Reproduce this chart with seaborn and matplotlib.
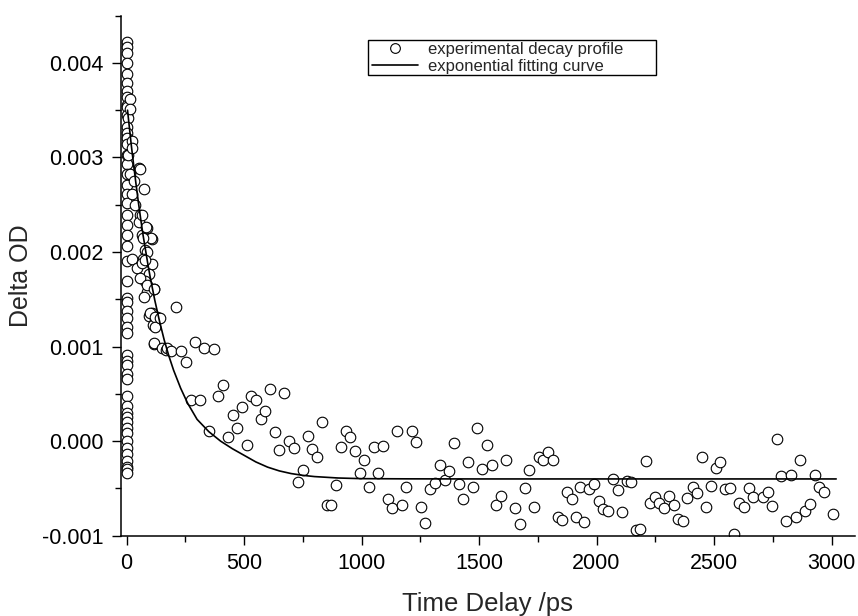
import matplotlib
matplotlib.use("Agg")
import matplotlib.pyplot as plt
from matplotlib.lines import Line2D
from matplotlib.patches import Rectangle
from matplotlib.ticker import MultipleLocator, FormatStrFormatter
import seaborn as sns
import pandas as pd

# ---------------- data (values in units of 1e-3 Delta OD) ----------------
# early-time column (t close to zero)
col_t = [1, 2, 1, 0, 1, 2, 1, 0, 2, 3, 1, 4, 2, 0, 3, 1, 2, 0, 3, 1, 2, 0, 2,
         1, 3, 0, 1, 2, 0, 1, 3, 1, 2, 0, 2, 1, 3, 2, 0, 1, 2, 3, 1, 0, 2, 1,
         3, 2, 1, 2, 0, 1, 2]
col_od = [4.22, 4.17, 4.10, 4.00, 3.88, 3.79, 3.70, 3.64, 3.56, 3.53, 3.45,
          3.42, 3.32, 3.26, 3.21, 3.14, 3.03, 2.93, 2.82, 2.71, 2.61, 2.52,
          2.39, 2.29, 2.18, 2.06, 1.90, 1.69, 1.51, 1.47, 1.38, 1.30, 1.21,
          1.14, 0.91, 0.85, 0.80, 0.71, 0.66, 0.48, 0.37, 0.30, 0.26, 0.20,
          0.14, 0.09, 0.00, -0.07, -0.14, -0.21, -0.27, -0.30, -0.34]

# early decay region
early_t = [8, 15, 15, 23, 23, 15, 30, 51, 72, 37, 58, 23, 51, 65, 86, 108, 79,
           57, 64, 82, 104, 71, 88, 109, 71, 97, 78, 116, 85, 75, 106, 97, 131,
           120, 113, 22, 44, 65, 79, 58, 86, 115, 101, 122, 122, 115, 142, 117,
           150, 166, 171, 191, 210, 231, 251, 291, 331, 372]
early_od = [3.03, 3.62, 3.51, 3.17, 3.10, 2.82, 2.75, 2.89, 2.67, 2.50, 2.39,
            2.61, 2.32, 2.18, 2.25, 2.14, 2.02, 2.88, 2.39, 2.26, 2.15, 2.15,
            2.00, 1.87, 1.93, 1.77, 1.69, 1.61, 1.58, 1.52, 1.35, 1.32, 1.31,
            1.28, 1.23, 1.93, 1.83, 1.88, 1.92, 1.72, 1.65, 1.61, 1.35, 1.31,
            1.21, 1.03, 1.30, 1.04, 0.99, 0.96, 0.98, 0.95, 1.42, 0.95, 0.84,
            1.05, 0.98, 0.97]

# later times
late_t = [272, 312, 350, 391, 411, 433, 451, 471, 491, 511, 529, 550, 570, 590,
          610, 630, 649, 669, 692, 711, 731, 749, 771, 791, 811, 830, 852, 870,
          892, 911, 932, 952, 972, 992, 1012, 1030, 1051, 1071, 1091, 1111,
          1131, 1152, 1172, 1191, 1213, 1232, 1252, 1272, 1292, 1312, 1333,
          1353, 1373, 1392, 1415, 1433, 1453, 1473, 1493, 1513, 1533, 1553,
          1574, 1593, 1614, 1654, 1674, 1694, 1714, 1734, 1754, 1774, 1794,
          1814, 1834, 1854, 1874, 1894, 1913, 1930, 1948, 1969, 1990, 2010,
          2029, 2050, 2069, 2090, 2108, 2128, 2148, 2168, 2187, 2209, 2227,
          2249, 2267, 2288, 2308, 2328, 2348, 2368, 2387, 2409, 2428, 2448,
          2468, 2488, 2507, 2527, 2547, 2567, 2587, 2607, 2627, 2648, 2668,
          2708, 2728, 2747, 2767, 2787, 2807, 2827, 2848, 2868, 2888, 2908,
          2928, 2948, 2969, 3006]
late_od = [0.44, 0.43, 0.11, 0.48, 0.59, 0.04, 0.28, 0.14, 0.36, -0.04, 0.48,
           0.44, 0.23, 0.32, 0.55, 0.10, -0.09, 0.51, 0.00, -0.07, -0.43, -0.31,
           0.05, -0.08, -0.17, 0.20, -0.68, -0.68, -0.46, -0.06, 0.11, 0.04,
           -0.10, -0.34, -0.20, -0.49, -0.06, -0.34, -0.05, -0.61, -0.71, 0.11,
           -0.68, -0.48, 0.11, -0.01, -0.70, -0.87, -0.51, -0.44, -0.25, -0.41,
           -0.32, -0.02, -0.45, -0.61, -0.22, -0.48, 0.14, -0.29, -0.04, -0.25,
           -0.68, -0.58, -0.20, -0.71, -0.88, -0.50, -0.31, -0.70, -0.17, -0.20,
           -0.11, -0.20, -0.80, -0.83, -0.54, -0.61, -0.80, -0.49, -0.86, -0.51,
           -0.45, -0.63, -0.72, -0.74, -0.40, -0.52, -0.75, -0.42, -0.43, -0.94,
           -0.93, -0.21, -0.65, -0.59, -0.65, -0.71, -0.58, -0.68, -0.82, -0.84,
           -0.60, -0.48, -0.55, -0.17, -0.70, -0.47, -0.28, -0.22, -0.51, -0.50,
           -0.98, -0.65, -0.70, -0.50, -0.59, -0.59, -0.54, -0.69, 0.02, -0.37,
           -0.84, -0.36, -0.80, -0.20, -0.74, -0.66, -0.36, -0.49, -0.54, -0.77]

# exponential fitting curve
fit_t = [4, 10, 20, 30, 40, 50, 60, 70, 80, 90, 100, 120, 140, 160, 180, 200,
         230, 260, 300, 350, 400, 450, 500, 550, 600, 650, 700, 750, 800, 900,
         1000, 1200, 1500, 3020]
fit_od = [3.50, 3.36, 3.13, 2.92, 2.72, 2.53, 2.35, 2.18, 2.03, 1.88, 1.74,
          1.49, 1.27, 1.07, 0.90, 0.75, 0.56, 0.40, 0.23, 0.10, 0.00, -0.08,
          -0.15, -0.22, -0.275, -0.315, -0.343, -0.362, -0.375, -0.39, -0.397,
          -0.399, -0.40, -0.40]

legend_labels = ["experimental decay profile", "exponential fitting curve"]

# ---------------- figure ----------------
sns.set_style("ticks")
plt.rcParams["font.family"] = ["Liberation Sans", "DejaVu Sans"]

scale = 1e-3
df = pd.DataFrame({
    "t": col_t + early_t + late_t,
    "od": [v * scale for v in col_od + early_od + late_od],
})
fit = pd.DataFrame({"t": fit_t, "od": [v * scale for v in fit_od]})

fig = plt.figure(figsize=(8.58, 6.16), dpi=100)
ax = fig.add_axes([0.1407, 0.1304, 0.8558, 0.8442])

sns.scatterplot(data=df, x="t", y="od", ax=ax, marker="o", s=58,
                facecolor="white", edgecolor="black", linewidth=0.8, zorder=2)
sns.lineplot(data=fit, x="t", y="od", ax=ax, color="black", linewidth=1.2,
             estimator=None, sort=False, zorder=3)

ax.set_xlim(-25, 3100)
ax.set_ylim(-0.001, 0.0045)
ax.xaxis.set_major_locator(MultipleLocator(500))
ax.xaxis.set_minor_locator(MultipleLocator(250))
ax.yaxis.set_major_locator(MultipleLocator(0.001))
ax.yaxis.set_minor_locator(MultipleLocator(0.0005))
ax.yaxis.set_major_formatter(FormatStrFormatter("%.3f"))

for s in ["top", "right"]:
    ax.spines[s].set_visible(False)
for s in ["left", "bottom"]:
    ax.spines[s].set_linewidth(1.1)
    ax.spines[s].set_color("black")

ax.tick_params(which="major", direction="out", length=6.5, width=1.0,
               labelsize=15.5, pad=6, colors="black")
ax.tick_params(which="minor", direction="out", length=4.2, width=1.0,
               colors="black")

ax.set_xlabel("Time Delay /ps", fontsize=18.5)
ax.set_ylabel("Delta OD", fontsize=18)
ax.yaxis.set_label_coords(-0.12, 0.5)
ax.xaxis.set_label_coords(0.5, -0.108)

# legend (frame drawn separately to match the wide box of the original)
handles = [
    Line2D([], [], marker="o", ls="none", mfc="white", mec="black", ms=7,
           mew=0.8),
    Line2D([], [], color="black", lw=1.2),
]
frame = Rectangle((0.3364, 0.886), 0.7290 - 0.3364, 0.953 - 0.886,
                  transform=ax.transAxes, facecolor="white",
                  edgecolor="black", linewidth=1.0, zorder=4)
ax.add_patch(frame)
leg = ax.legend(handles, legend_labels,
                loc="upper left", bbox_to_anchor=(0.342, 0.950),
                borderaxespad=0, fontsize=12, frameon=False,
                handlelength=2.76, labelspacing=0.12, borderpad=0.0,
                handletextpad=0.6)
leg.set_zorder(5)

fig.savefig("out.png", dpi=100)
